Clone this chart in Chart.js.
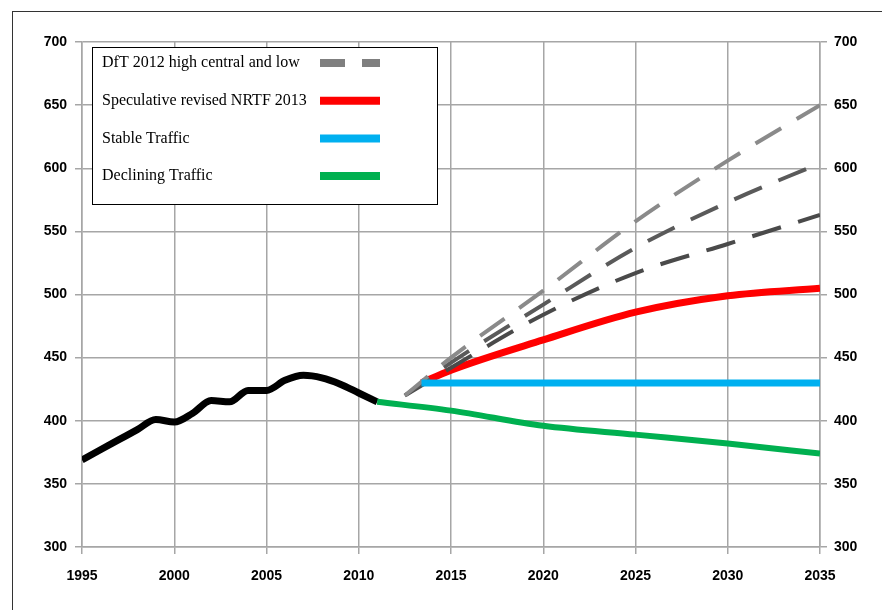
<!DOCTYPE html>
<html>
<head>
<meta charset="utf-8">
<script src="https://cdn.jsdelivr.net/npm/chart.js@4/dist/chart.umd.min.js"></script>
<style>
  html, body { margin: 0; padding: 0; background: #fff; }
  #wrap { position: relative; width: 882px; height: 610px; }
  #frame { position: absolute; left: 12px; top: 11px; right: 0; bottom: 0;
           border-top: 1px solid #333; border-left: 1px solid #333; pointer-events: none; }
</style>
</head>
<body>
<div id="wrap">
  <canvas id="myChart" width="882" height="610"></canvas>
  <div id="frame"></div>
</div>
<script>
// values
const historyYears = [1995, 1996, 1997, 1998, 1999, 2000, 2001, 2002, 2003, 2004, 2005, 2006, 2007, 2008, 2009, 2010, 2011];
const historyValues = [369, 377, 385, 393, 401, 399, 406, 416, 415, 424, 424, 432, 436, 434, 429, 422, 415];

const dftYears = [2012.5, 2015, 2020, 2025, 2030, 2035];
const dftHigh = [420, 450, 503, 558, 606, 650];
const dftCentral = [420, 446, 492, 537, 573, 604];
const dftLow = [420, 442, 484, 517, 540, 563];

const nrtfYears = [2013.4, 2015, 2020, 2025, 2030, 2035];
const nrtfValues = [430, 440, 464, 486, 499, 505];

const stableYears = [2013.4, 2035];
const stableValues = [430, 430];

const declineYears = [2011, 2015, 2020, 2025, 2030, 2035];
const declineValues = [415, 408, 396, 389, 382, 374];

const legendLabels = ["DfT 2012 high central and low", "Speculative revised NRTF 2013", "Stable Traffic", "Declining Traffic"];
const legendColors = ["#7f7f7f", "#ff0000", "#00b0f0", "#00b050"];

const pts = (xs, ys) => xs.map((x, i) => ({ x: x, y: ys[i] }));

const gridColor = "#a6a6a6";
const tickFont = { family: "'Liberation Sans', Arial, sans-serif", size: 14, weight: "bold" };

//draws the boxed legend in the top left of the plot
const boxLegend = {
  id: "boxLegend",
  afterDraw(chart) {
    const ctx = chart.ctx;
    const x0 = 92, y0 = 47, w = 345, h = 157;
    ctx.save();
    ctx.fillStyle = "#fff";
    ctx.fillRect(x0, y0, w, h);
    ctx.strokeStyle = "#000";
    ctx.lineWidth = 1;
    ctx.strokeRect(x0 + 0.5, y0 + 0.5, w, h);
    ctx.font = "16px 'Liberation Serif', 'Times New Roman', serif";
    ctx.textBaseline = "middle";
    legendLabels.forEach((lbl, i) => {
      const y = 63 + i * 37.7;
      ctx.fillStyle = "#000";
      ctx.fillText(lbl, 102, y);
      ctx.strokeStyle = legendColors[i];
      ctx.lineWidth = 8;
      ctx.beginPath();
      if (i === 0) {
        ctx.moveTo(320, y); ctx.lineTo(345, y);
        ctx.moveTo(362, y); ctx.lineTo(380, y);
      } else {
        ctx.moveTo(320, y); ctx.lineTo(380, y);
      }
      ctx.stroke();
    });
    ctx.restore();
  }
};

const lineDefaults = { pointRadius: 0, fill: false, tension: 0.4, cubicInterpolationMode: "monotone", borderCapStyle: "butt" };

const data = {
  datasets: [
    Object.assign({ label: "Declining Traffic", data: pts(declineYears, declineValues), borderColor: "#00b050", borderWidth: 6 }, lineDefaults),
    Object.assign({ label: "Stable Traffic", data: pts(stableYears, stableValues), borderColor: "#00b0f0", borderWidth: 7 }, lineDefaults),
    Object.assign({ label: "DfT high", data: pts(dftYears, dftHigh), borderColor: "#8a8a8a", borderWidth: 4, borderDash: [30, 18] }, lineDefaults),
    Object.assign({ label: "DfT central", data: pts(dftYears, dftCentral), borderColor: "#5a5a5a", borderWidth: 4, borderDash: [30, 18] }, lineDefaults),
    Object.assign({ label: "DfT low", data: pts(dftYears, dftLow), borderColor: "#4a4a4a", borderWidth: 4, borderDash: [30, 18] }, lineDefaults),
    Object.assign({ label: "Speculative revised NRTF 2013", data: pts(nrtfYears, nrtfValues), borderColor: "#ff0000", borderWidth: 7 }, lineDefaults),
    Object.assign({ label: "History", data: pts(historyYears, historyValues), borderColor: "#000000", borderWidth: 7 }, lineDefaults),
  ],
};

const yTicks = { stepSize: 50, color: "#000", font: tickFont };

const config = {
  type: "line",
  data: data,
  plugins: [boxLegend],
  options: {
    responsive: false,
    animation: false,
    layout: { padding: { top: 42, left: 0, right: 0, bottom: 0 } },
    plugins: { legend: { display: false }, tooltip: { enabled: false } },
    scales: {
      x: {
        type: "linear", min: 1995, max: 2035,
        ticks: { stepSize: 5, color: "#000", font: tickFont, padding: 14, maxRotation: 0, callback: (v) => String(v) },
        grid: { color: gridColor, lineWidth: 1.5, tickLength: 7 },
        border: { color: gridColor, width: 1.5 },
        afterFit: (s) => { s.height = 63; },
      },
      y: {
        position: "left", min: 300, max: 700,
        ticks: Object.assign({ padding: 8 }, yTicks),
        grid: { color: gridColor, lineWidth: 1.5, tickLength: 7 },
        border: { color: gridColor, width: 1.5 },
        afterFit: (s) => { s.width = 82; },
      },
      y2: {
        position: "right", min: 300, max: 700,
        ticks: Object.assign({ padding: 7 }, yTicks),
        grid: { color: gridColor, lineWidth: 1.5, tickLength: 7, drawOnChartArea: false },
        border: { color: gridColor, width: 1.5 },
        afterFit: (s) => { s.width = 62; },
      },
    },
  },
};

const myChart = new Chart(document.getElementById("myChart"), config);
</script>
</body>
</html>
